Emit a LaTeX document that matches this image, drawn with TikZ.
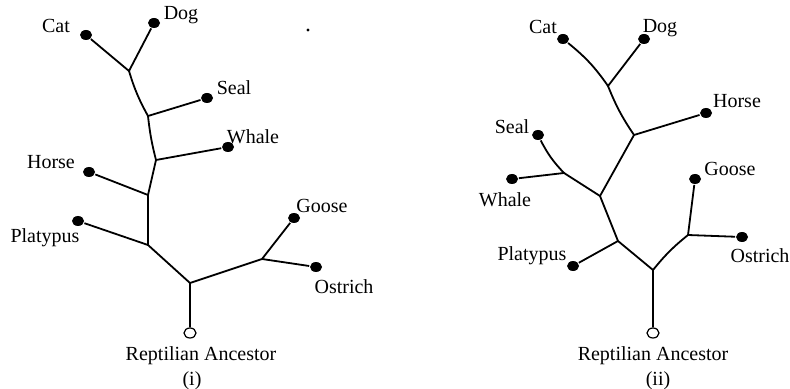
\documentclass[tikz,border=0pt]{standalone}
\usepackage{fontspec}
\setmainfont{Liberation Serif}
\usetikzlibrary{shapes.geometric}

\begin{document}
\begin{tikzpicture}[x=0.5pt, y=-0.5pt, line width=0.9pt,
    leaf/.style={ellipse, fill, inner sep=0pt, minimum width=6pt, minimum height=5pt},
    root/.style={ellipse, draw, line width=0.6pt, inner sep=0pt, minimum width=6pt, minimum height=5pt},
    lbl/.style={font=\fontsize{10}{12}\selectfont, inner sep=0pt}]
    \useasboundingbox (0,0) rectangle (790,389);
    % tree (i)
    \path
        (86,35) node(catA)[leaf]{}
        (154,23) node(dogA)[leaf]{}
        (207,98) node(sealA)[leaf]{}
        (228,147) node(whaleA)[leaf]{}
        (89,172) node(horseA)[leaf]{}
        (78,221) node(platA)[leaf]{}
        (294,218) node(gooseA)[leaf]{}
        (316,267) node(ostrA)[leaf]{}
        (190,333) node(rootA)[root]{};
    \coordinate (jA1) at (129,71);
    \coordinate (jA2) at (148,116);
    \coordinate (jA3) at (156,160);
    \coordinate (jA4) at (148,195);
    \coordinate (jA5) at (148,245);
    \coordinate (jA6) at (190,283);
    \coordinate (jA7) at (262,259);
    \draw (catA) -- (jA1) -- (dogA);
    \draw (jA1) to[bend right=6] (jA2) to[bend right=4] (jA3) -- (jA4) -- (jA5) -- (jA6) -- (rootA);
    \draw (jA2) -- (sealA);
    \draw (jA3) -- (whaleA);
    \draw (jA4) -- (horseA);
    \draw (jA5) -- (platA);
    \draw (jA6) -- (jA7) -- (gooseA);
    \draw (jA7) -- (ostrA);
    \node[lbl] (catAT) at (56,26) {Cat};
    \node[lbl] (dogAT) at (181,15) {Dog};
    \node[lbl] (sealAT) at (234,88) {Seal};
    \node[lbl] (whaleAT) at (253,137) {Whale};
    \node[lbl] (horseAT) at (51,162) {Horse};
    \node[lbl] (platAT) at (45,238) {Platypus};
    \node[lbl] (gooseAT) at (322,206) {Goose};
    \node[lbl] (ostrAT) at (344,287) {Ostrich};
    \node[lbl] (rootAT) at (201,356) {Reptilian Ancestor};
    \node[lbl] (capA) at (192,381) {(i)};
    \fill (308,30) circle (0.8pt);
    % tree (ii)
    \path
        (563,39) node(catB)[leaf]{}
        (644,39) node(dogB)[leaf]{}
        (706,113) node(horseB)[leaf]{}
        (538,135) node(sealB)[leaf]{}
        (512,179) node(whaleB)[leaf]{}
        (573,266) node(platB)[leaf]{}
        (695,179) node(gooseB)[leaf]{}
        (742,237) node(ostrB)[leaf]{}
        (653,333) node(rootB)[root]{};
    \coordinate (jB1) at (608,86);
    \coordinate (jB2) at (634,135);
    \coordinate (jB3) at (564,173);
    \coordinate (jB4) at (600,196);
    \coordinate (jB5) at (618,241);
    \coordinate (jB6) at (653,270);
    \coordinate (jB7) at (688,235);
    \draw (catB) to[bend left=8] (jB1) -- (dogB);
    \draw (jB1) to[bend right=6] (jB2) -- (horseB);
    \draw (jB2) -- (jB4) -- (jB5) -- (jB6) -- (rootB);
    \draw (sealB) to[bend right=8] (jB3) -- (whaleB);
    \draw (jB3) -- (jB4);
    \draw (jB5) -- (platB);
    \draw (jB6) to[bend left=6] (jB7) -- (gooseB);
    \draw (jB7) -- (ostrB);
    \node[lbl] (catBT) at (543,27) {Cat};
    \node[lbl] (dogBT) at (660,28) {Dog};
    \node[lbl] (horseBT) at (737,101) {Horse};
    \node[lbl] (sealBT) at (512,127) {Seal};
    \node[lbl] (whaleBT) at (505,200) {Whale};
    \node[lbl] (platBT) at (532,256) {Platypus};
    \node[lbl] (gooseBT) at (730,169) {Goose};
    \node[lbl] (ostrBT) at (760,256) {Ostrich};
    \node[lbl] (rootBT) at (653,356) {Reptilian Ancestor};
    \node[lbl] (capB) at (658,381) {(ii)};
\end{tikzpicture}
\end{document}
